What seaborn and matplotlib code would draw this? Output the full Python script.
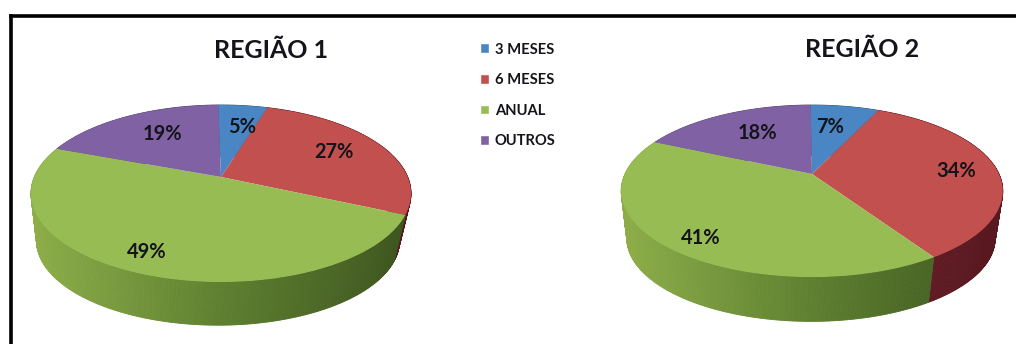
import numpy as np
import matplotlib
matplotlib.use("Agg")
import matplotlib.pyplot as plt
from matplotlib.collections import PolyCollection
from matplotlib.lines import Line2D
from matplotlib.patches import Patch
from matplotlib.transforms import Transform
import seaborn as sns

# Survey shares per region
categories = ["3 MESES", "6 MESES", "ANUAL", "OUTROS"]
regiao_1 = [5, 27, 49, 19]
regiao_2 = [7, 34, 41, 18]
titles = ["REGIÃO 1", "REGIÃO 2"]

W, H = 1016, 344
FONT = "Lato"
INK = "#14141a"

sns.set_theme(style="white")
plt.rcParams["font.family"] = [FONT, "DejaVu Sans"]
top_colors = sns.color_palette(["#4a85c4", "#c2504e", "#98bc54", "#8062a4"])
# Side wall colour at the left, front and right of the disc
wall_stops = {
    0: ("#3c6fa8", "#34608f", "#2a4d75"),
    1: ("#8a2e30", "#701f28", "#581820"),
    2: ("#8cad48", "#5f8030", "#3e561f"),
    3: ("#6a5088", "#5a4474", "#4a3860"),
}


class Tilt(Transform):
    """Projects the flat unit disc onto a receding plane."""
    input_dims = output_dims = 2

    def __init__(self, k):
        super().__init__()
        self.k = k

    def transform_non_affine(self, xy):
        xy = np.asarray(xy, float)
        d = 1 + self.k * xy[:, 1]
        return np.column_stack([xy[:, 0] / d, xy[:, 1] / d])


def wall_color(idx, x):
    left, mid, right = [np.array(matplotlib.colors.to_rgb(c)) for c in wall_stops[idx]]
    x = np.clip(x, -1, 1)
    return left + (mid - left) * (x + 1) if x < 0 else mid + (right - mid) * x


def draw_region(box, values, title, title_xy, cx, cy, sx, sy, k, depth, shrink, drift, start, label_px):
    x0, x1 = box
    ax = fig.add_axes([x0 / W, 0, (x1 - x0) / W, 1])
    tilt = Tilt(k)

    # Wedges run clockwise from just past 12 o'clock
    wedges, _ = ax.pie(values, colors=top_colors, startangle=start, counterclock=False,
                       wedgeprops=dict(linewidth=0))
    for w in wedges:
        w.set_transform(tilt + ax.transData)
        w.set_zorder(3)
    ax.set_aspect("auto")
    ax.set_xlim((x0 - cx) / sx, (x1 - cx) / sx)
    ax.set_ylim((cy - H) / sy, cy / sy)
    ax.axis("off")

    # Side wall: thin quads between the top rim and the lower rim
    edges = np.cumsum([0] + list(values)) / sum(values) * 2 * np.pi + np.radians(90 - start)
    polys, cols = [], []
    for i in range(len(values)):
        n = max(int((edges[i + 1] - edges[i]) * 90), 2)
        a = np.linspace(edges[i], edges[i + 1], n + 1)
        rim = tilt.transform_non_affine(np.column_stack([np.sin(a), np.cos(a)]))
        low = rim * shrink + np.array([drift / sx, -depth / sy])
        for j in range(n):
            polys.append([rim[j], rim[j + 1], low[j + 1], low[j]])
            cols.append(wall_color(i, rim[j, 0]))
    ax.add_collection(PolyCollection(polys, facecolors=cols, edgecolors=cols,
                                     linewidths=0.6, zorder=2))

    for v, (px, py) in zip(values, label_px):
        ax.text((px - cx) / sx, (cy - py) / sy, f"{v}%", ha="center", va="center",
                fontsize=14.4, fontweight="bold", color=INK, zorder=5)
    ax.text((title_xy[0] - cx) / sx, (cy - title_xy[1]) / sy, title, ha="center",
            va="center", fontsize=18, fontweight="bold", color=INK, zorder=5)


fig = plt.figure(figsize=(W / 100, H / 100), dpi=100, facecolor="white")

draw_region((0, 508), regiao_1, titles[0], (271, 51), cx=221, cy=177, sx=186.7, sy=85.4,
            k=0.186, depth=48, shrink=0.955, drift=-3, start=91,
            label_px=[(242, 127), (334, 152), (147, 252), (162, 134)])
draw_region((508, 1016), regiao_2, titles[1], (862, 49), cx=812, cy=174, sx=187, sy=82.6,
            k=0.198, depth=48, shrink=0.965, drift=-1, start=90.5,
            label_px=[(830, 127), (956, 171), (701, 238), (757, 133)])

handles = [Patch(facecolor=c, label=l) for c, l in zip(top_colors, categories)]
fig.legend(handles=handles, loc="upper left", bbox_to_anchor=(479.5 / W, 1 - 42.5 / H),
           frameon=False, labelcolor=INK, prop=dict(family=FONT, weight="bold", size=10.6),
           handlelength=0.64, handleheight=0.64, handletextpad=0.4, labelspacing=1.13,
           borderpad=0, borderaxespad=0)

# Outer border: heavy rule along the top and left edges
for xs, ys in [((10.5, W), (15.5, 15.5)), ((10.5, 10.5), (15.5, H))]:
    fig.add_artist(Line2D([x / W for x in xs], [1 - y / H for y in ys], color="black",
                          linewidth=2.6, solid_capstyle="projecting"))

fig.savefig("out.png", dpi=100, facecolor="white")
